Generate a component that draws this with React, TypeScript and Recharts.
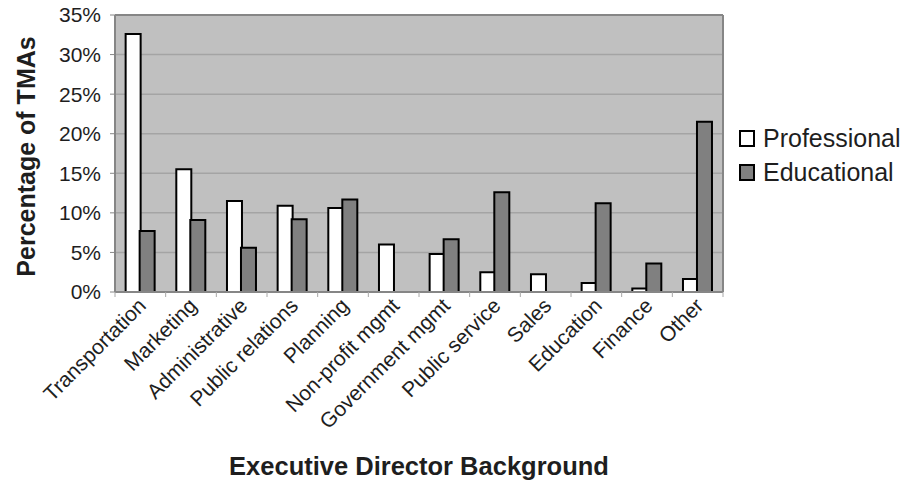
import { BarChart, Bar, XAxis, YAxis, CartesianGrid, Legend } from 'recharts';

const categories = [
  'Transportation',
  'Marketing',
  'Administrative',
  'Public relations',
  'Planning',
  'Non-profit mgmt',
  'Government mgmt',
  'Public service',
  'Sales',
  'Education',
  'Finance',
  'Other',
];

// share of TMAs (%) by executive director background
const professional = [32.6, 15.5, 11.5, 10.9, 10.6, 6.0, 4.8, 2.5, 2.25, 1.15, 0.45, 1.65];
const educational = [7.7, 9.1, 5.6, 9.2, 11.7, 0, 6.65, 12.6, 0, 11.2, 3.6, 21.5];

const yTicks = [0, 5, 10, 15, 20, 25, 30, 35];

const data = categories.map((name, i) => ({
  name,
  professional: professional[i],
  educational: educational[i],
}));

const FONT = '"Liberation Sans", Arial, sans-serif';
const TEXT = '#1e1e1e';

function CategoryTick(props: any) {
  const { x, y, payload, index, width, visibleTicksCount } = props;
  const half = width / visibleTicksCount / 2;
  const last = index === visibleTicksCount - 1;
  return (
    <g>
      <line x1={x - half} x2={x - half} y1={y} y2={y + 5} stroke="#a8a8a8" strokeWidth={1} />
      {last && <line x1={x + half} x2={x + half} y1={y} y2={y + 5} stroke="#a8a8a8" strokeWidth={1} />}
      <g transform={`translate(${x + 7},${y + 15})`}>
        <text x={0} y={0} textAnchor="end" transform="rotate(-45)" fontSize={21} fontFamily={FONT} fill={TEXT}>
          {payload.value}
        </text>
      </g>
    </g>
  );
}

function YTitle(props: any) {
  const { viewBox } = props;
  const cy = viewBox.y + viewBox.height / 2 + 3;
  return (
    <text
      x={26}
      y={cy}
      transform={`rotate(-90, 26, ${cy})`}
      textAnchor="middle"
      dominantBaseline="central"
      fontSize={25}
      fontWeight="bold"
      fontFamily={FONT}
      fill={TEXT}
    >
      Percentage of TMAs
    </text>
  );
}

function renderLegend() {
  const items = [
    { label: 'Professional', fill: '#ffffff' },
    { label: 'Educational', fill: '#808080' },
  ];
  return (
    <div style={{ fontFamily: FONT, fontSize: 25, color: TEXT }}>
      {items.map((it) => (
        <div key={it.label} style={{ display: 'flex', alignItems: 'center', height: 34 }}>
          <span
            style={{
              display: 'inline-block',
              width: 12,
              height: 13,
              background: it.fill,
              border: '2px solid #000',
              marginRight: 8,
            }}
          />
          <span>{it.label}</span>
        </div>
      ))}
    </div>
  );
}

export default function App() {
  return (
    <div style={{ position: 'absolute', left: 0, top: 0, width: 908, height: 483, background: '#fff' }}>
      <BarChart
        width={908}
        height={483}
        data={data}
        margin={{ top: 15, right: 185, bottom: 0, left: 0 }}
        barCategoryGap="21%"
        barGap={-1}
      >
        <CartesianGrid vertical={false} stroke="#a4a4a4" strokeWidth={1.5} fill="#c0c0c0" fillOpacity={1} />
        <CartesianGrid
          horizontal={false}
          stroke="#868686"
          strokeWidth={2}
          verticalCoordinatesGenerator={({ offset }: any) => [offset.left + offset.width]}
        />
        <CartesianGrid
          vertical={false}
          stroke="#868686"
          strokeWidth={2}
          horizontalCoordinatesGenerator={({ offset }: any) => [offset.top]}
        />
        <XAxis
          dataKey="name"
          interval={0}
          height={191}
          tickSize={0}
          tickMargin={0}
          tickLine={false}
          axisLine={{ stroke: '#868686', strokeWidth: 2 }}
          tick={<CategoryTick />}
          label={{
            value: 'Executive Director Background',
            position: 'insideBottom',
            offset: 8,
            fontSize: 25.5,
            fontWeight: 'bold',
            fontFamily: FONT,
            fill: TEXT,
          }}
        />
        <YAxis
          width={115}
          domain={[0, 35]}
          ticks={yTicks}
          interval={0}
          tickFormatter={(v: number) => `${v}%`}
          tickSize={5}
          tickMargin={9}
          tickLine={{ stroke: '#868686' }}
          axisLine={{ stroke: '#868686', strokeWidth: 2 }}
          tick={{ fontSize: 21, fontFamily: FONT, fill: TEXT }}
          label={{ content: <YTitle /> }}
        />
        <Legend
          layout="vertical"
          align="center"
          verticalAlign="middle"
          content={renderLegend}
          wrapperStyle={{ left: 739, top: 121, width: 169 }}
        />
        <Bar dataKey="professional" name="Professional" fill="#ffffff" stroke="#000" strokeWidth={2} isAnimationActive={false} />
        <Bar dataKey="educational" name="Educational" fill="#808080" stroke="#000" strokeWidth={2} isAnimationActive={false} />
      </BarChart>
    </div>
  );
}
